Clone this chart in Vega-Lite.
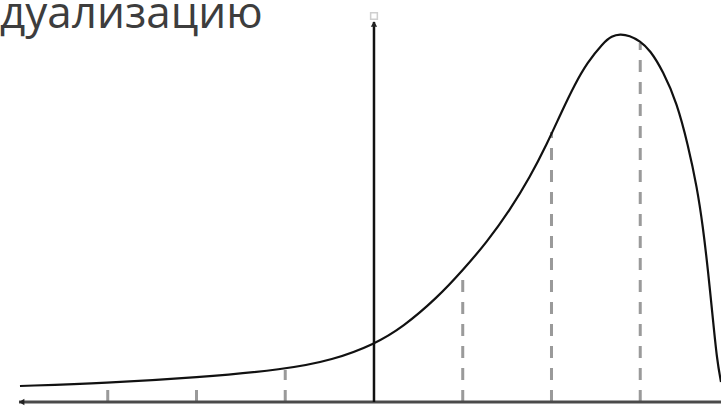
{
  "$schema": "https://vega.github.io/schema/vega-lite/v6.json",
  "width": 721,
  "height": 410,
  "padding": 0,
  "autosize": {"type": "none"},
  "background": "white",
  "config": {"view": {"stroke": null}},
  "datasets": {
    "curve": [
      {"x": -3.989, "y": 0.16},
      {"x": -3.02, "y": 0.19},
      {"x": -1.994, "y": 0.245},
      {"x": -1.003, "y": 0.325},
      {"x": -0.462, "y": 0.42},
      {"x": 0.0, "y": 0.575},
      {"x": 0.327, "y": 0.75},
      {"x": 0.71, "y": 1.04},
      {"x": 1.003, "y": 1.32},
      {"x": 1.273, "y": 1.6},
      {"x": 1.532, "y": 1.92},
      {"x": 1.758, "y": 2.25},
      {"x": 1.949, "y": 2.58},
      {"x": 2.118, "y": 2.91},
      {"x": 2.265, "y": 3.18},
      {"x": 2.4, "y": 3.39},
      {"x": 2.58, "y": 3.59},
      {"x": 2.68, "y": 3.66},
      {"x": 2.772, "y": 3.68},
      {"x": 2.88, "y": 3.665},
      {"x": 2.997, "y": 3.61},
      {"x": 3.11, "y": 3.52},
      {"x": 3.256, "y": 3.31},
      {"x": 3.414, "y": 2.99},
      {"x": 3.538, "y": 2.57},
      {"x": 3.639, "y": 2.15},
      {"x": 3.707, "y": 1.75},
      {"x": 3.763, "y": 1.32},
      {"x": 3.82, "y": 0.82},
      {"x": 3.865, "y": 0.42},
      {"x": 3.91, "y": 0.2}
    ],
    "dashes": [
      {"x": -1, "y": 0, "y2": 0.32},
      {"x": 1, "y": 0, "y2": 1.32},
      {"x": 2, "y": 0, "y2": 2.7},
      {"x": 3, "y": 0, "y2": 3.59}
    ],
    "ticks": [
      {"x": -3, "y": 0, "y2": 0.12},
      {"x": -2, "y": 0, "y2": 0.12}
    ],
    "haxis": [{"x": -4.0, "x2": 3.95, "y": 0}],
    "vaxis": [{"x": 0, "y": 0, "y2": 3.8}],
    "arrows": [
      {"x": -3.97, "y": 0, "shape": "triangle-left"},
      {"x": 0, "y": 3.78, "shape": "triangle-up"}
    ],
    "marker": [{"x": 0, "y": 3.86}],
    "label": [{"x": -4.214, "y": 3.74, "text": "дуализацию"}]
  },
  "encoding": {
    "x": {"field": "x", "type": "quantitative", "scale": {"domain": [-4.214, 3.91], "nice": false, "zero": false}, "axis": null},
    "y": {"field": "y", "type": "quantitative", "scale": {"domain": [-0.08, 4.02], "nice": false, "zero": false}, "axis": null}
  },
  "layer": [
    {
      "data": {"name": "ticks"},
      "mark": {"type": "rule", "color": "#9a9a9a", "strokeWidth": 3},
      "encoding": {"y2": {"field": "y2"}}
    },
    {
      "data": {"name": "dashes"},
      "mark": {"type": "rule", "color": "#9a9a9a", "strokeWidth": 3, "strokeDash": [12, 10]},
      "encoding": {"y2": {"field": "y2"}}
    },
    {
      "data": {"name": "haxis"},
      "mark": {"type": "rule", "color": "#4a4a4a", "strokeWidth": 3},
      "encoding": {"x2": {"field": "x2"}}
    },
    {
      "data": {"name": "vaxis"},
      "mark": {"type": "rule", "color": "#111111", "strokeWidth": 2.5},
      "encoding": {"y2": {"field": "y2"}}
    },
    {
      "data": {"name": "arrows"},
      "mark": {"type": "point", "filled": true, "color": "#222222", "size": 40, "opacity": 1},
      "encoding": {"shape": {"field": "shape", "type": "nominal", "scale": null, "legend": null}}
    },
    {
      "data": {"name": "marker"},
      "mark": {"type": "point", "shape": "square", "size": 45, "color": "#bbbbbb", "strokeWidth": 1.5}
    },
    {
      "data": {"name": "curve"},
      "mark": {"type": "line", "color": "#111111", "strokeWidth": 2.2, "interpolate": "basis"}
    },
    {
      "data": {"name": "label"},
      "mark": {"type": "text", "align": "left", "baseline": "alphabetic", "font": "Open Sans", "fontSize": 44, "color": "#3d3d3d"},
      "encoding": {"text": {"field": "text", "type": "nominal"}}
    }
  ]
}
